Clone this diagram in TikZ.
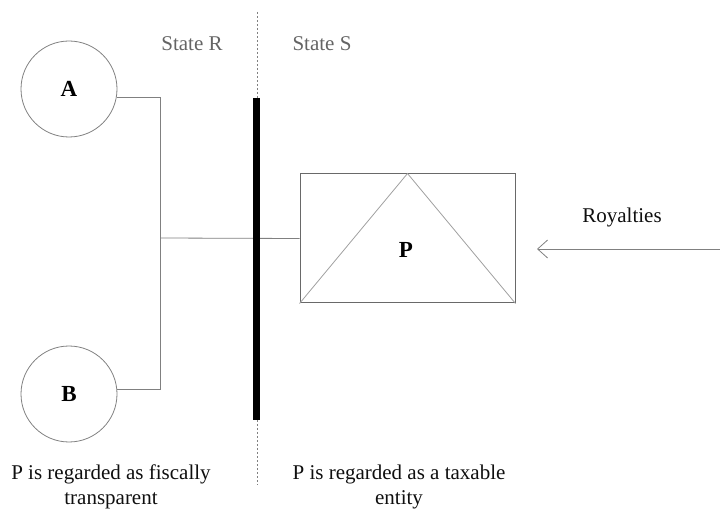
\documentclass[tikz,border=0pt]{standalone}
\usepackage{fontspec}
\setmainfont{Liberation Serif}
\usetikzlibrary{arrows.meta}
\definecolor{linegray}{RGB}{128,128,128}
\definecolor{boxgray}{RGB}{105,105,105}
\definecolor{trigray}{RGB}{160,160,160}
\definecolor{labelgray}{RGB}{100,100,100}
\definecolor{textdark}{RGB}{15,15,15}
\tikzset{
  txt/.style={font=\fontsize{21}{25}\selectfont, text=textdark, inner sep=0pt},
  party/.style={circle, draw=linegray, line width=0.8pt, minimum size=96pt,
    inner sep=0pt, font=\fontsize{23}{25}\selectfont\bfseries},
  entity/.style={rectangle, draw=boxgray, line width=1pt, minimum width=215pt,
    minimum height=129pt, inner sep=0pt},
  wire/.style={draw=linegray, line width=0.8pt},
  border/.style={draw=linegray, line width=0.7pt, dash pattern=on 2pt off 2pt},
  barrier/.style={draw=black, line width=7pt},
}
\begin{document}
\begin{tikzpicture}[x=1pt, y=-1pt]
  \useasboundingbox (0,0) rectangle (720,510);

  % border between the two states
  \coordinate (dtop) at (257,12);
  \coordinate (dbot) at (257,485);
  \draw[border] (dtop) -- (dbot);
  \node[txt, text=labelgray] (stateR) at (192,44) {State R};
  \node[txt, text=labelgray] (stateS) at (322,44) {State S};

  % partners
  \node[party] (A) at (69,89) {A};
  \node[party] (B) at (69,394) {B};

  % partnership P
  \node[entity] (P) at (407.5,238.5) {};
  \draw[draw=trigray, line width=0.8pt] (P.south west) -- (P.north) -- (P.south east);
  \node[txt, font=\fontsize{23}{25}\selectfont\bfseries, text=black] (plabel) at (406,250) {P};

  % ownership links
  \coordinate (j) at (160,238);
  \draw[wire] (A.-10) -| (j);
  \draw[wire] (B.6) -| (j);
  \draw[wire] (j) -- (P.west);

  % treaty barrier
  \coordinate (btop) at (256.5,98);
  \coordinate (bbot) at (256.5,420);
  \draw[barrier] (btop) -- (bbot);

  % royalty payment
  \coordinate (src) at (720,249);
  \coordinate (tip) at (537,249);
  \draw[wire, -{Straight Barb[length=10pt, width=18pt, line width=0.8pt]}] (src) -- (tip);
  \node[txt] (roy) at (622,217) {Royalties};

  % classification notes
  \node[txt, align=center] (noteR) at (111,487) {P is regarded as fiscally\\transparent};
  \node[txt, align=center] (noteS) at (399,487) {P is regarded as a taxable\\entity};
\end{tikzpicture}
\end{document}
